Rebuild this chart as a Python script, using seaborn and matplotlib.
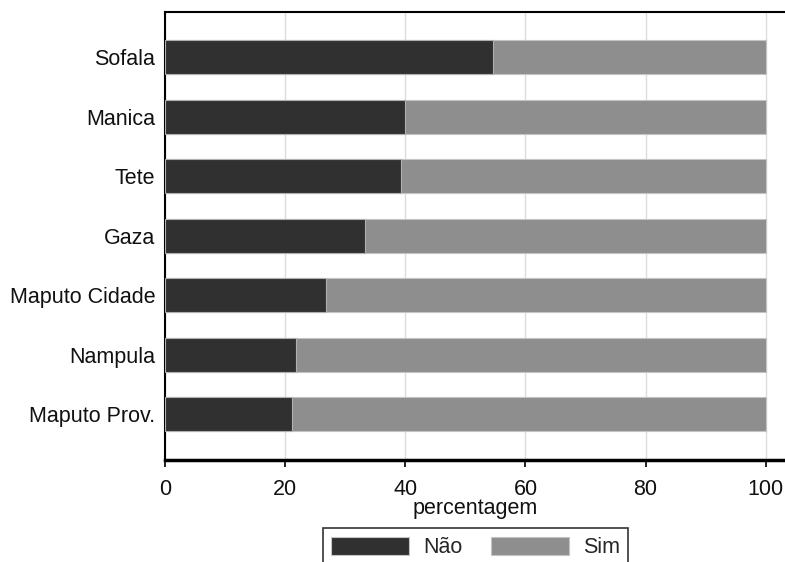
import pandas as pd
import matplotlib.pyplot as plt
import seaborn as sns

# Values (percent of respondents per province)
regions = ['Sofala', 'Manica', 'Tete', 'Gaza', 'Maputo Cidade', 'Nampula', 'Maputo Prov.']
nao = [54.6, 39.9, 39.3, 33.3, 26.8, 21.8, 21.2]
sim = [45.4, 60.1, 60.7, 66.7, 73.2, 78.2, 78.8]

df = pd.DataFrame({'regiao': regions, 'Não': nao, 'Sim': sim})
df['total'] = df['Não'] + df['Sim']

sns.set_theme(style='white')
plt.rcParams['font.family'] = ['Liberation Sans', 'DejaVu Sans']

fig = plt.figure(figsize=(7.85, 5.62), dpi=100)
ax = fig.add_axes([0.2102, 0.1815, 0.7898, 0.797])

# stacked bars: full bar (Sim) underneath, Não drawn on top
sns.barplot(data=df, x='total', y='regiao', orient='h', color='#8e8e8e',
            width=0.57, edgecolor='#c4c4c4', linewidth=0.8, saturation=1,
            ax=ax, label='Sim', zorder=2)
sns.barplot(data=df, x='Não', y='regiao', orient='h', color='#303030',
            width=0.57, edgecolor='#b0b0b0', linewidth=0.8, saturation=1,
            ax=ax, label='Não', zorder=3)

ax.set_xlim(0, 103.2)
ax.set_ylim(6.77, -0.755)
ax.set_xticks([0, 20, 40, 60, 80, 100])
ax.xaxis.grid(True, color='#dcdcdc', linewidth=1)
ax.set_axisbelow(True)

for s in ['top', 'left']:
    ax.spines[s].set_color('black')
    ax.spines[s].set_linewidth(1.5)
ax.spines['bottom'].set_color('black')
ax.spines['bottom'].set_linewidth(2.5)
ax.spines['right'].set_visible(False)

fs = 15.5
ax.tick_params(axis='x', bottom=True, length=5, width=1.2, color='black',
               labelsize=fs, pad=9, labelcolor='#111111')
ax.tick_params(axis='y', left=False, length=0, labelsize=fs, pad=7,
               labelcolor='#111111')
ax.set_ylabel('')
ax.set_xlabel('percentagem', fontsize=fs, labelpad=-2, color='#111111')

if ax.legend_:
    ax.legend_.remove()
handles, labels = ax.get_legend_handles_labels()
order = [labels.index('Não'), labels.index('Sim')]
leg = fig.legend([handles[i] for i in order], [labels[i] for i in order],
                 loc='upper center', bbox_to_anchor=(0.6057, 0.0605), ncol=2,
                 fontsize=fs, frameon=True, fancybox=False, shadow=False,
                 handlelength=3.6, handleheight=0.95, handletextpad=0.65,
                 columnspacing=1.35, borderpad=0.4, borderaxespad=0,
                 edgecolor='black')
leg.get_frame().set_linewidth(1.2)
for h in leg.legend_handles:
    h.set_edgecolor('#c4c4c4')

fig.savefig('out.png', dpi=100)
